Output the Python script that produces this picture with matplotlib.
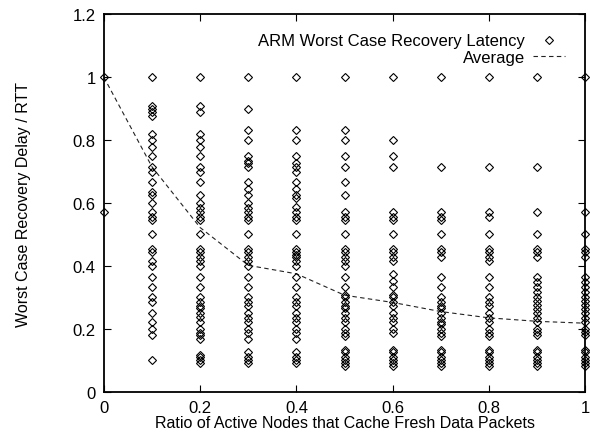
import matplotlib
matplotlib.use("Agg")
import matplotlib.pyplot as plt

plt.rcParams['font.family'] = ['Liberation Sans', 'DejaVu Sans']

# ratio of active nodes (x) and the observed worst case delays at each ratio
ratios = [0.0, 0.1, 0.2, 0.3, 0.4, 0.5, 0.6, 0.7, 0.8, 0.9, 1.0]

delay_00 = [1.0, 0.571]
delay_01 = [1.0, 0.909, 0.9, 0.889, 0.875, 0.818, 0.8, 0.778, 0.75, 0.714, 0.7,
            0.667, 0.636, 0.625, 0.6, 0.571, 0.556, 0.545, 0.5, 0.455, 0.444,
            0.417, 0.4, 0.364, 0.333, 0.3, 0.286, 0.25, 0.222, 0.2, 0.182, 0.1]
delay_02 = [1.0, 0.909, 0.889, 0.818, 0.8, 0.778, 0.75, 0.714, 0.7, 0.667, 0.625,
            0.6, 0.583, 0.571, 0.556, 0.545, 0.5, 0.455, 0.444, 0.429, 0.417, 0.4,
            0.364, 0.333, 0.3, 0.286, 0.273, 0.267, 0.25, 0.238, 0.222, 0.2,
            0.188, 0.182, 0.167, 0.118, 0.111, 0.1, 0.091]
delay_03 = [1.0, 0.9, 0.833, 0.8, 0.75, 0.733, 0.727, 0.714, 0.667, 0.643, 0.625,
            0.6, 0.583, 0.571, 0.556, 0.545, 0.5, 0.455, 0.444, 0.429, 0.417, 0.4,
            0.364, 0.333, 0.3, 0.286, 0.273, 0.25, 0.235, 0.222, 0.2, 0.188,
            0.167, 0.125, 0.111, 0.1, 0.091]
delay_04 = [1.0, 0.833, 0.8, 0.75, 0.727, 0.714, 0.7, 0.667, 0.643, 0.625, 0.615,
            0.588, 0.571, 0.556, 0.545, 0.5, 0.455, 0.444, 0.435, 0.429, 0.417,
            0.4, 0.364, 0.333, 0.3, 0.286, 0.273, 0.25, 0.235, 0.222, 0.2, 0.188,
            0.167, 0.125, 0.111, 0.1, 0.091]
delay_05 = [1.0, 0.833, 0.8, 0.75, 0.714, 0.667, 0.625, 0.571, 0.556, 0.545, 0.5,
            0.455, 0.444, 0.429, 0.417, 0.4, 0.364, 0.333, 0.308, 0.3, 0.286,
            0.273, 0.267, 0.25, 0.235, 0.222, 0.2, 0.188, 0.176, 0.133, 0.125,
            0.111, 0.1, 0.091, 0.083]
delay_06 = [1.0, 0.8, 0.75, 0.714, 0.571, 0.556, 0.545, 0.5, 0.455, 0.444, 0.429,
            0.417, 0.375, 0.353, 0.333, 0.308, 0.3, 0.286, 0.273, 0.25, 0.235,
            0.222, 0.2, 0.188, 0.133, 0.125, 0.111, 0.1, 0.091, 0.083]
delay_07 = [1.0, 0.714, 0.571, 0.556, 0.545, 0.5, 0.455, 0.444, 0.429, 0.364,
            0.333, 0.3, 0.286, 0.273, 0.267, 0.25, 0.235, 0.222, 0.214, 0.2,
            0.188, 0.176, 0.133, 0.125, 0.111, 0.1, 0.091, 0.083]
delay_08 = [1.0, 0.714, 0.571, 0.556, 0.5, 0.455, 0.444, 0.429, 0.417, 0.364,
            0.333, 0.3, 0.286, 0.273, 0.25, 0.235, 0.222, 0.2, 0.188, 0.176,
            0.133, 0.125, 0.111, 0.1, 0.091, 0.083]
delay_09 = [1.0, 0.714, 0.571, 0.5, 0.455, 0.444, 0.429, 0.364, 0.348, 0.333,
            0.316, 0.3, 0.29, 0.276, 0.263, 0.25, 0.235, 0.222, 0.2, 0.19, 0.182,
            0.133, 0.125, 0.111, 0.1, 0.091, 0.083]
delay_10 = [1.0, 0.571, 0.5, 0.455, 0.444, 0.429, 0.364, 0.348, 0.333, 0.316,
            0.3, 0.29, 0.276, 0.263, 0.25, 0.235, 0.222, 0.2, 0.19, 0.182, 0.133,
            0.125, 0.111, 0.1, 0.091, 0.083]

average = [1.0, 0.715, 0.522, 0.402, 0.375, 0.307, 0.284, 0.255, 0.235, 0.224, 0.218]

columns = [delay_00, delay_01, delay_02, delay_03, delay_04, delay_05,
           delay_06, delay_07, delay_08, delay_09, delay_10]

xs = []
ys = []
for r, col in zip(ratios, columns):
    xs += [r] * len(col)
    ys += col

fig = plt.figure(figsize=(5.9, 4.35), dpi=100)
ax = fig.add_axes([0.176, 0.097, 0.816, 0.868])

ax.plot(xs, ys, linestyle='none', marker='D', markersize=3.7,
        markerfacecolor='none', markeredgecolor='black', markeredgewidth=0.8,
        label='ARM Worst Case Recovery Latency', clip_on=False, zorder=3)
ax.plot(ratios, average, color='#222222', linestyle=(0, (4, 3)), linewidth=0.8,
        label='Average', zorder=2)

ax.set_xlim(0, 1)
ax.set_ylim(0, 1.2)
ax.set_xticks([0, 0.2, 0.4, 0.6, 0.8, 1])
ax.set_xticklabels(['0', '0.2', '0.4', '0.6', '0.8', '1'])
ax.set_yticks([0, 0.2, 0.4, 0.6, 0.8, 1, 1.2])
ax.set_yticklabels(['0', '0.2', '0.4', '0.6', '0.8', '1', '1.2'])
ax.tick_params(direction='in', length=5, width=0.8, top=True, right=True,
               labelsize=12, pad=6)
for s in ax.spines.values():
    s.set_linewidth(1.3)

ax.set_xlabel('Ratio of Active Nodes that Cache Fresh Data Packets', fontsize=11.5, labelpad=0)
ax.set_ylabel('Worst Case Recovery Delay / RTT', fontsize=11.5, labelpad=30)

ax.legend(loc='upper right', bbox_to_anchor=(0.972, 0.94), bbox_transform=fig.transFigure,
          frameon=False, markerfirst=False, fontsize=12, handlelength=1.9,
          handletextpad=0.5, labelspacing=0.1, borderpad=0)

fig.savefig('out.png', dpi=100)
